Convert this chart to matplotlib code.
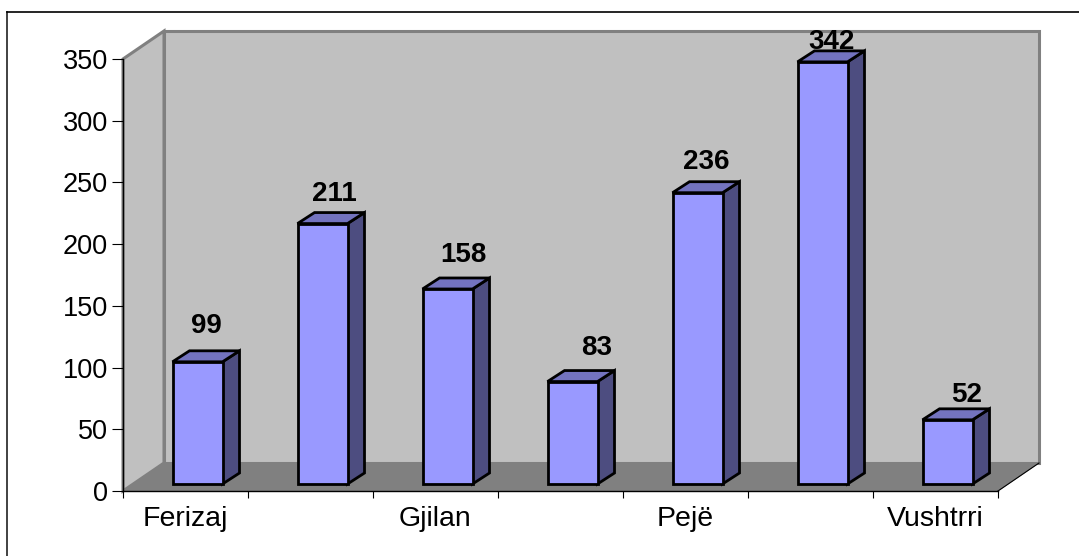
import matplotlib
matplotlib.use("Agg")
import matplotlib.pyplot as plt
from matplotlib.patches import Polygon, Rectangle

categories = ["Ferizaj", "", "Gjilan", "", "Pejë", "", "Vushtrri"]
values = [99, 211, 158, 83, 236, 342, 52]
y_ticks = [0, 50, 100, 150, 200, 250, 300, 350]
# hand placed value labels in the original: pixels right of / above the bar's top face
label_dx = [0, 3, 7, 16, 0, 1, 11]
label_gap = [25, 19, 23, 23, 20, 9, 14]

W, H = 1079, 556
# plot box in pixels, y measured from the top of the image
left, right, top, bottom = 123, 998, 59, 491
wall_dx, wall_dy = 41, 28
bar_dx, bar_dy = 17, 11
bar_shift_x, bar_shift_y = 12, 7
bar_w = 50

plt.rcParams["font.family"] = ["Liberation Sans", "DejaVu Sans"]

fig = plt.figure(figsize=(W / 100, H / 100), dpi=100, facecolor="white")
ax = fig.add_axes([left / W, 1 - bottom / H, (right - left) / W, (bottom - top) / H])
ax.set_xlim(0, len(values))
ax.set_ylim(0, 350)
ax.patch.set_visible(False)

px_x = len(values) / (right - left)
px_y = 350 / (bottom - top)


def poly(points, fc, ec="black", lw=2.0, z=3):
    ax.add_patch(Polygon(points, closed=True, facecolor=fc, edgecolor=ec, linewidth=lw,
                         joinstyle="miter", clip_on=False, zorder=z))


wx = wall_dx * px_x
wy = wall_dy * px_y
n = len(values)

# back wall, side wall, floor
poly([(wx, wy), (n + wx, wy), (n + wx, 350 + wy), (wx, 350 + wy)], "#c0c0c0", "#808080", 2.2, 1)
poly([(0, 0), (wx, wy), (wx, 350 + wy), (0, 350)], "#c0c0c0", "#808080", 2.2, 1)
poly([(0, 0), (n, 0), (n + wx, wy), (wx, wy)], "#808080", "#808080", 0.5, 1.5)
ax.plot([n, n + wx], [0, wy], color="black", lw=0.8, clip_on=False, zorder=1.6)

# bars
for i, v in enumerate(values):
    x0 = i + 0.5 - bar_w * px_x / 2 + bar_shift_x * px_x
    x1 = x0 + bar_w * px_x
    y0 = bar_shift_y * px_y
    y1 = y0 + v
    dx = bar_dx * px_x
    dy = bar_dy * px_y
    poly([(x1, y0), (x1 + dx, y0 + dy), (x1 + dx, y1 + dy), (x1, y1)], "#4d4d80", z=3)
    poly([(x0, y1), (x1, y1), (x1 + dx, y1 + dy), (x0 + dx, y1 + dy)], "#7373bf", z=3)
    ax.add_patch(Rectangle((x0, y0), x1 - x0, v, facecolor="#9999ff", edgecolor="black",
                           linewidth=2.0, clip_on=False, zorder=3.1))
    ax.text((x0 + x1 + dx) / 2 + label_dx[i] * px_x, y1 + dy + label_gap[i] * px_y, str(v),
            ha="center", va="center", fontsize=20, fontweight="bold", color="black",
            zorder=2.9, clip_on=False)

# axes
for side in ("top", "right"):
    ax.spines[side].set_visible(False)
for side in ("left", "bottom"):
    ax.spines[side].set_linewidth(1.0)
    ax.spines[side].set_zorder(2)
ax.set_yticks(y_ticks)
ax.set_xticks(range(n + 1))
ax.set_xticklabels([])
ax.set_xticks([i + 0.5 for i in range(n)], minor=True)
ax.set_xticklabels(categories, minor=True, fontsize=20.5)
ax.tick_params(axis="x", which="minor", length=0, pad=11)
ax.tick_params(axis="x", which="major", length=5, width=0.8)
ax.tick_params(axis="y", length=8, width=0.8, labelsize=19.5, pad=3)

# outer frame: only left and top edges reach the image
fig.add_artist(plt.Line2D([7 / W, 7 / W], [0, 1 - 12 / H], color="#333333", lw=1.3))
fig.add_artist(plt.Line2D([7 / W, 1], [1 - 12 / H, 1 - 12 / H], color="black", lw=1.2))

fig.savefig("out.png", dpi=100, facecolor="white")
